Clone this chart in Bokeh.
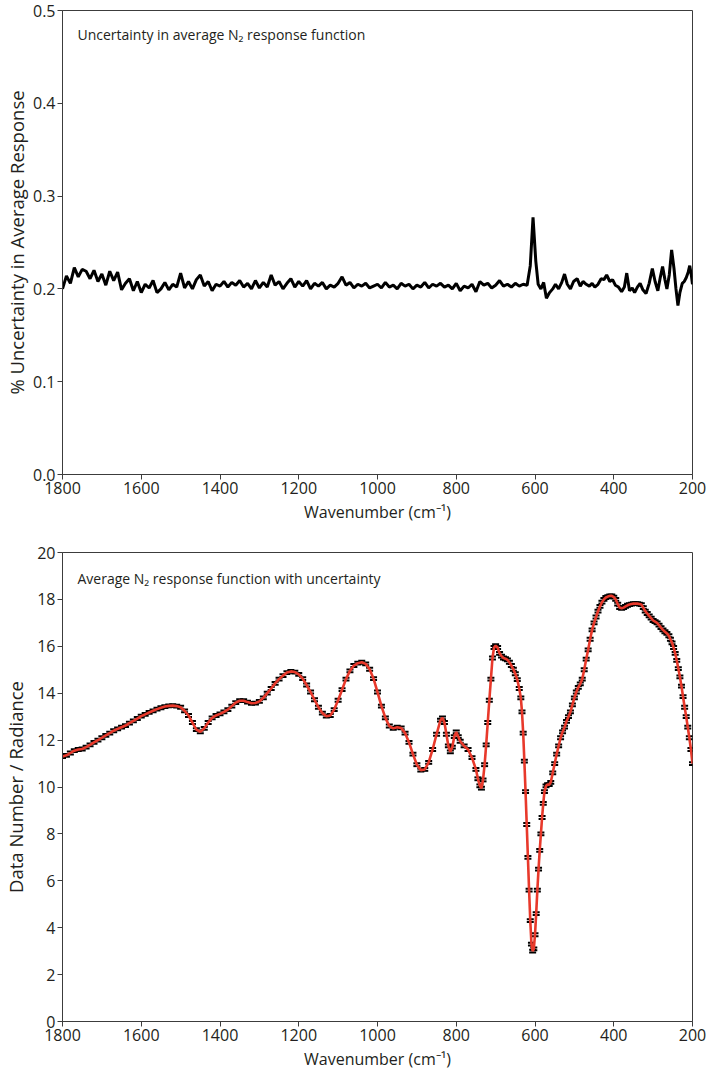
from bokeh.plotting import figure
from bokeh.models import Range1d, FixedTicker, Label, NumeralTickFormatter
from bokeh.layouts import column
from bokeh.embed import file_html
from bokeh.resources import INLINE

# ---------------- data ----------------
x_ticks = [1800, 1600, 1400, 1200, 1000, 800, 600, 400, 200]
top_y_ticks = [0.0, 0.1, 0.2, 0.3, 0.4, 0.5]
bot_y_ticks = [0, 2, 4, 6, 8, 10, 12, 14, 16, 18, 20]

# % uncertainty in average response
unc_wn = [1800, 1790, 1780, 1770, 1760, 1750, 1740, 1730, 1720, 1710, 1700, 1690, 1680, 1670, 1660,
          1650, 1640, 1630, 1620, 1610, 1600, 1590, 1580, 1570, 1560, 1550, 1540, 1530, 1520, 1510,
          1500, 1490, 1480, 1470, 1460, 1450, 1440, 1430, 1420, 1410, 1400, 1390, 1380, 1370, 1360,
          1350, 1340, 1330, 1320, 1310, 1300, 1290, 1280, 1270, 1260, 1250, 1240, 1230, 1220, 1210,
          1200, 1190, 1180, 1170, 1160, 1150, 1140, 1130, 1120, 1110, 1100, 1090, 1080, 1070, 1060,
          1050, 1040, 1030, 1020, 1010, 1000, 990, 980, 970, 960, 950, 940, 930, 920, 910,
          900, 890, 880, 870, 860, 850, 840, 830, 820, 810, 800, 790, 780, 770, 760,
          750, 740, 730, 720, 710, 700, 690, 680, 670, 660, 650, 640, 630, 620, 612,
          605, 598, 592, 585, 578, 571, 563, 555, 548, 540, 532, 525, 518, 510, 502,
          493, 485, 478, 470, 462, 455, 448, 440, 432, 425, 418, 410, 403, 396, 388,
          380, 373, 367, 360, 353, 347, 340, 333, 326, 318, 310, 302, 295, 288, 282,
          276, 270, 265, 259, 253, 247, 242, 237, 232, 226, 221, 216, 211, 207, 203, 200]
unc_pct = [0.200, 0.214, 0.206, 0.223, 0.213, 0.221, 0.219, 0.211, 0.220, 0.208, 0.216, 0.204, 0.219, 0.209, 0.218,
           0.199, 0.206, 0.211, 0.198, 0.208, 0.196, 0.205, 0.201, 0.209, 0.196, 0.200, 0.207, 0.199, 0.205, 0.202,
           0.217, 0.201, 0.208, 0.200, 0.210, 0.215, 0.203, 0.208, 0.198, 0.205, 0.203, 0.208, 0.202, 0.207, 0.204,
           0.209, 0.202, 0.206, 0.200, 0.209, 0.201, 0.207, 0.202, 0.215, 0.204, 0.208, 0.200, 0.206, 0.211, 0.202,
           0.208, 0.203, 0.209, 0.200, 0.206, 0.203, 0.207, 0.200, 0.204, 0.202, 0.206, 0.213, 0.204, 0.207, 0.201,
           0.205, 0.203, 0.206, 0.201, 0.203, 0.205, 0.201, 0.207, 0.202, 0.204, 0.200, 0.206, 0.203, 0.205, 0.200,
           0.204, 0.202, 0.207, 0.201, 0.205, 0.203, 0.206, 0.202, 0.204, 0.200, 0.206, 0.198, 0.203, 0.201, 0.205,
           0.197, 0.208, 0.204, 0.206, 0.201, 0.204, 0.209, 0.203, 0.205, 0.202, 0.206, 0.203, 0.205, 0.204, 0.225,
           0.277, 0.230, 0.205, 0.200, 0.207, 0.190, 0.196, 0.200, 0.205, 0.200, 0.207, 0.216, 0.205, 0.200, 0.208,
           0.211, 0.203, 0.208, 0.205, 0.203, 0.206, 0.202, 0.205, 0.211, 0.210, 0.215, 0.208, 0.210, 0.204, 0.202,
           0.197, 0.202, 0.217, 0.198, 0.201, 0.196, 0.202, 0.206, 0.199, 0.195, 0.206, 0.222, 0.208, 0.198, 0.212,
           0.224, 0.210, 0.200, 0.215, 0.242, 0.222, 0.200, 0.182, 0.196, 0.206, 0.208, 0.212, 0.218, 0.225, 0.215, 0.205]

# average N2 response function
resp_wn = [1800, 1790, 1780, 1770, 1760, 1750, 1740, 1730, 1720, 1710, 1700, 1690, 1680, 1670, 1660,
           1650, 1640, 1630, 1620, 1610, 1600, 1590, 1580, 1570, 1560, 1550, 1540, 1530, 1520, 1510,
           1500, 1490, 1480, 1470, 1460, 1450, 1440, 1430, 1420, 1410, 1400, 1390, 1380, 1370, 1360,
           1350, 1340, 1330, 1320, 1310, 1300, 1290, 1280, 1270, 1260, 1250, 1240, 1230, 1220, 1210,
           1200, 1190, 1180, 1170, 1160, 1150, 1140, 1130, 1120, 1110, 1100, 1090, 1080, 1070, 1060,
           1050, 1040, 1030, 1020, 1010, 1000, 990, 980, 970, 960, 950, 940, 930, 920, 910,
           900, 890, 880, 870, 860, 850, 840, 835, 830, 825, 820, 815, 810, 805, 800,
           795, 790, 780, 770, 760, 750, 745, 740, 736, 732, 728, 724, 720, 716, 712,
           708, 704, 700, 695, 690, 685, 680, 675, 670, 665, 660, 655, 650, 645, 640,
           636, 633, 630, 627, 624, 621, 618, 615, 612, 609, 606, 603, 600, 597, 594,
           591, 588, 585, 582, 579, 576, 572, 568, 564, 560, 555, 550, 545, 540, 535,
           530, 525, 520, 515, 510, 505, 500, 495, 490, 485, 480, 475, 470, 465, 460,
           455, 450, 445, 440, 435, 430, 425, 420, 415, 410, 405, 400, 395, 390, 385,
           380, 375, 370, 365, 360, 355, 350, 345, 340, 335, 330, 325, 320, 315, 310,
           305, 300, 295, 290, 285, 280, 275, 270, 265, 260, 256, 252, 248, 244, 240,
           236, 232, 228, 224, 220, 216, 212, 208, 204, 200]
resp_dn = [11.30, 11.35, 11.45, 11.55, 11.60, 11.62, 11.70, 11.80, 11.90, 12.00, 12.10, 12.20, 12.30, 12.40, 12.48,
           12.55, 12.62, 12.72, 12.82, 12.92, 13.02, 13.10, 13.18, 13.25, 13.32, 13.38, 13.43, 13.46, 13.47, 13.45,
           13.40, 13.25, 13.05, 12.75, 12.45, 12.35, 12.50, 12.75, 12.95, 13.05, 13.12, 13.20, 13.30, 13.45, 13.60,
           13.68, 13.68, 13.62, 13.57, 13.58, 13.65, 13.80, 14.00, 14.20, 14.42, 14.60, 14.75, 14.88, 14.93, 14.90,
           14.80, 14.62, 14.35, 14.05, 13.72, 13.40, 13.15, 13.02, 13.05, 13.30, 13.70, 14.15, 14.60, 14.95, 15.18,
           15.28, 15.32, 15.25, 15.02, 14.62, 14.05, 13.45, 12.95, 12.60, 12.50, 12.55, 12.52, 12.30, 11.90, 11.40,
           10.95, 10.72, 10.75, 11.05, 11.60, 12.25, 12.85, 12.95, 12.75, 12.25, 11.75, 11.50, 11.70, 12.15, 12.35,
           12.15, 11.95, 11.75, 11.60, 11.25, 10.75, 10.35, 10.05, 9.95, 10.30, 10.95, 11.80, 12.75, 13.70, 14.60,
           15.50, 15.95, 16.03, 15.95, 15.70, 15.58, 15.50, 15.47, 15.42, 15.32, 15.18, 15.02, 14.83, 14.58, 14.20,
           13.80, 13.20, 12.30, 11.10, 9.80, 8.40, 7.00, 5.60, 4.30, 3.30, 3.00, 3.10, 3.70, 4.60, 5.60,
           6.50, 7.30, 8.00, 8.70, 9.30, 9.80, 10.05, 10.10, 10.10, 10.20, 10.60, 11.00, 11.40, 11.75, 12.10,
           12.35, 12.55, 12.80, 13.00, 13.20, 13.50, 13.80, 14.05, 14.25, 14.40, 14.60, 15.00, 15.45, 15.85, 16.30,
           16.70, 17.00, 17.25, 17.50, 17.70, 17.88, 18.00, 18.08, 18.12, 18.15, 18.15, 18.10, 18.00, 17.80, 17.65,
           17.62, 17.65, 17.70, 17.75, 17.78, 17.80, 17.82, 17.82, 17.82, 17.80, 17.78, 17.65, 17.50, 17.40, 17.30,
           17.20, 17.10, 17.05, 17.00, 16.90, 16.80, 16.70, 16.62, 16.55, 16.45, 16.30, 16.15, 15.95, 15.70, 15.40,
           15.05, 14.70, 14.30, 13.85, 13.40, 13.00, 12.55, 12.10, 11.60, 11.00]

# ---------------- styling ----------------
FONT = "Open Sans"
TXT = "#231f20"
FRAME = "#3c3c3c"
RED = "#e8392b"
ERR = 0.06  # visual half-height of the error-bar caps


def style(p, yticks, label_standoff):
    p.xaxis.ticker = FixedTicker(ticks=x_ticks)
    p.yaxis.ticker = FixedTicker(ticks=yticks)
    for ax in (p.xaxis[0], p.yaxis[0]):
        ax.axis_line_color = FRAME
        ax.major_tick_line_color = FRAME
        ax.minor_tick_line_color = None
        ax.major_tick_in = 0
        ax.major_tick_out = 5
        ax.major_label_text_font = FONT
        ax.major_label_text_font_size = "16px"
        ax.major_label_text_color = TXT
        ax.axis_label_text_font = FONT
        ax.axis_label_text_font_style = "normal"
        ax.axis_label_text_color = TXT
        ax.major_label_standoff = 2
    p.xaxis.axis_label_text_font_size = "16px"
    p.yaxis.axis_label_text_font_size = "18.5px"
    p.xaxis.axis_label_standoff = 4
    p.yaxis.axis_label_standoff = label_standoff
    p.xgrid.grid_line_color = None
    p.ygrid.grid_line_color = None
    p.outline_line_color = FRAME
    p.outline_line_width = 1
    p.background_fill_color = "white"
    p.border_fill_color = "white"


p1 = figure(width=709, height=530, x_range=Range1d(1800, 200), y_range=Range1d(0, 0.5),
            output_backend="svg", toolbar_location=None,
            min_border_left=62, min_border_right=17, min_border_top=10, min_border_bottom=56)
style(p1, top_y_ticks, 1)
p1.yaxis.formatter = NumeralTickFormatter(format="0.0")
p1.xaxis.axis_label = "Wavenumber (cm\u207b\u00b9)"
p1.yaxis.axis_label = "% Uncertainty in Average Response"
p1.line(unc_wn, unc_pct, line_color="black", line_width=3)
p1.add_layout(Label(x=1762, y=0.474, text="Uncertainty in average N\u2082 response function",
                    text_font=FONT, text_font_size="14px", text_color=TXT, text_baseline="middle"))

p2 = figure(width=709, height=547, x_range=Range1d(1800, 200), y_range=Range1d(0, 20),
            output_backend="svg", toolbar_location=None,
            min_border_left=62, min_border_right=17, min_border_top=22, min_border_bottom=56)
style(p2, bot_y_ticks, 6)
p2.xaxis.axis_label = "Wavenumber (cm\u207b\u00b9)"
p2.yaxis.axis_label = "Data Number / Radiance"
up = [v + ERR for v in resp_dn]
lo = [v - ERR for v in resp_dn]
p2.scatter(resp_wn, up, marker="dash", size=7, line_color="black", line_width=2)
p2.scatter(resp_wn, lo, marker="dash", size=7, line_color="black", line_width=2)
p2.line(resp_wn, resp_dn, line_color=RED, line_width=2.6)
p2.add_layout(Label(x=1762, y=18.89, text="Average N\u2082 response function with uncertainty",
                    text_font=FONT, text_font_size="14px", text_color=TXT, text_baseline="middle"))

layout = column(p1, p2, spacing=0)
open("out.html", "w").write(file_html(layout, INLINE))
